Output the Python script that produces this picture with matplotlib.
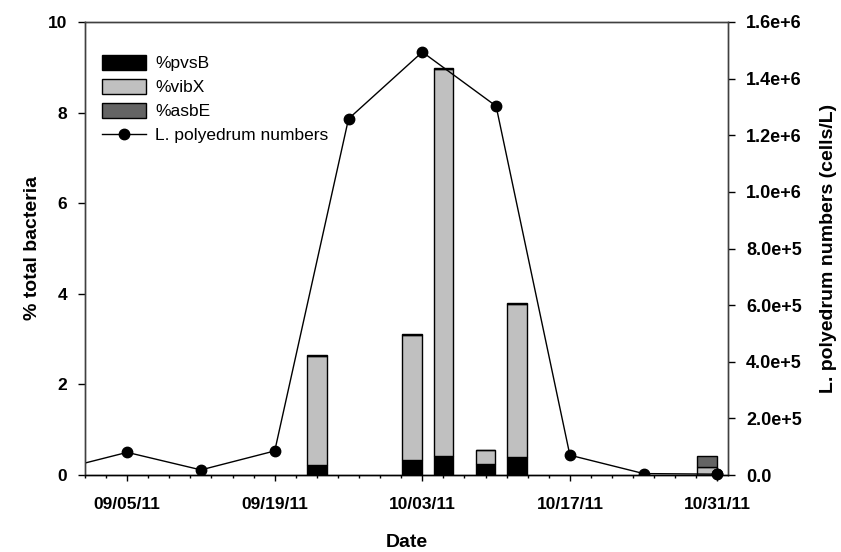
import numpy as np
import matplotlib
matplotlib.use("Agg")
import matplotlib.pyplot as plt
import matplotlib.dates as mdates
from matplotlib.patches import Patch
from matplotlib.lines import Line2D

plt.rcParams['font.family'] = ['Liberation Sans', 'DejaVu Sans']

# Bar data (% total bacteria)
bar_dates = np.array(['2011-09-23', '2011-10-02', '2011-10-05', '2011-10-09',
                      '2011-10-12', '2011-10-30'], dtype='datetime64[D]')
pvsB = [0.22, 0.33, 0.42, 0.24, 0.40, 0.0]
vibX = [2.40, 2.77, 8.54, 0.32, 3.38, 0.17]
asbE = [0.02, 0.02, 0.02, 0.0, 0.02, 0.25]

# L. polyedrum numbers (cells/L)
line_dates = np.array(['2011-08-29', '2011-09-05', '2011-09-12', '2011-09-19',
                       '2011-09-26', '2011-10-03', '2011-10-10', '2011-10-17',
                       '2011-10-24', '2011-10-31'], dtype='datetime64[D]')
cells = [14000, 80000, 18000, 85000, 1258000, 1494000, 1303000, 70000, 5000, 3000]

fig = plt.figure(figsize=(8.41, 5.52), dpi=100)
ax = fig.add_axes([85/841, 1-475/552, (728-85)/841, (475-22)/552])
ax2 = ax.twinx()

bx = mdates.date2num(bar_dates)
w = 1.85
pv = np.array(pvsB); vb = np.array(vibX); ab = np.array(asbE)
ax.bar(bx, pv, width=w, color='black', edgecolor='black', linewidth=1.0, zorder=2)
ax.bar(bx, vb, width=w, bottom=pv, color='#c0c0c0', edgecolor='black', linewidth=1.0, zorder=2)
ax.bar(bx, ab, width=w, bottom=pv + vb, color='#646464', edgecolor='black', linewidth=1.0, zorder=2)

lx = mdates.date2num(line_dates)
ax2.plot(lx, cells, color='black', linewidth=1.0, marker='o', markersize=7.5,
         markerfacecolor='black', markeredgecolor='black', clip_on=True)
ax2.plot(lx[-1:], cells[-1:], 'o', color='black', markersize=7.5, clip_on=False)

xmin = mdates.date2num(np.datetime64('2011-09-01'))
xmax = mdates.date2num(np.datetime64('2011-11-01'))
ax.set_xlim(xmin, xmax)
ax.set_ylim(0, 10)
ax2.set_ylim(0, 1.6e6)

major = mdates.date2num(np.array(['2011-09-05', '2011-09-19', '2011-10-03',
                                  '2011-10-17', '2011-10-31'], dtype='datetime64[D]'))
ax.set_xticks(major)
ax.set_xticklabels([mdates.num2date(m).strftime('%m/%d/%y') for m in major],
                   fontweight='bold', fontsize=12.5)
ax.set_xticks(np.arange(xmin, xmax + 0.1, 2), minor=True)
ax.tick_params(axis='x', which='major', direction='out', length=4.5, width=1, pad=11.5)
ax.tick_params(axis='x', which='minor', direction='out', length=2.5, width=1)

ax.set_yticks([0, 2, 4, 6, 8, 10])
ax.set_yticklabels(['0', '2', '4', '6', '8', '10'], fontweight='bold', fontsize=12.5)
ax.tick_params(axis='y', direction='out', length=5, width=1, pad=8)

rt = [0, 2e5, 4e5, 6e5, 8e5, 1e6, 1.2e6, 1.4e6, 1.6e6]
ax2.set_yticks(rt)
ax2.set_yticklabels(['0.0', '2.0e+5', '4.0e+5', '6.0e+5', '8.0e+5', '1.0e+6',
                     '1.2e+6', '1.4e+6', '1.6e+6'], fontweight='bold', fontsize=13)
ax2.tick_params(axis='y', direction='out', length=5, width=1, pad=8)

for a in (ax, ax2):
    for s in a.spines.values():
        s.set_color('#404040')
        s.set_linewidth(1.0)
    a.spines['bottom'].set_color('black')

ax.set_xlabel('Date', fontweight='bold', fontsize=14, labelpad=16)
ax.set_ylabel('% total bacteria', fontweight='bold', fontsize=14, labelpad=5)
ax2.set_ylabel('L. polyedrum numbers (cells/L)', fontweight='bold', fontsize=14, labelpad=13)

handles = [Patch(facecolor='black', edgecolor='black', label='%pvsB'),
           Patch(facecolor='#c0c0c0', edgecolor='black', label='%vibX'),
           Patch(facecolor='#646464', edgecolor='black', label='%asbE'),
           Line2D([0], [0], color='black', linewidth=1.0, marker='o', markersize=7.5,
                  label='L. polyedrum numbers')]
ax2.legend(handles=handles, loc='upper left', bbox_to_anchor=(0.0, 0.966),
           frameon=False, fontsize=12.5, handlelength=2.5, handleheight=1.0,
           handletextpad=0.55, labelspacing=0.42, borderaxespad=0.6)

fig.savefig('out.png', dpi=100)
